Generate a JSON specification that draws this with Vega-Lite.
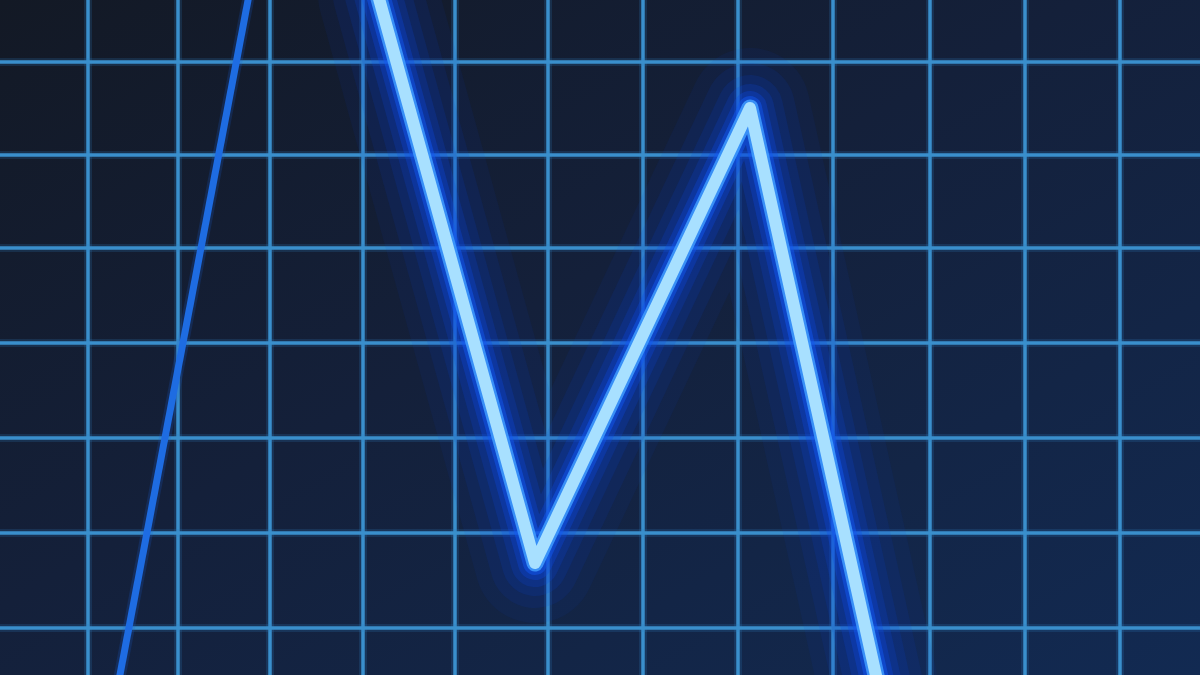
{
  "$schema": "https://vega.github.io/schema/vega-lite/v6.json",
  "width": 1200,
  "height": 675,
  "autosize": {"type": "fit", "contains": "padding"},
  "padding": 0,
  "background": "#141c2a",
  "config": {
    "view": {
      "stroke": null,
      "fill": {
        "gradient": "linear",
        "x1": 0, "y1": 0, "x2": 1, "y2": 1,
        "stops": [
          {"offset": 0, "color": "#131925"},
          {"offset": 0.45, "color": "#14203a"},
          {"offset": 1, "color": "#122a52"}
        ]
      }
    }
  },
  "datasets": {
    "vgrid": [
      {"gx": 88}, {"gx": 178}, {"gx": 270}, {"gx": 363}, {"gx": 455}, {"gx": 548},
      {"gx": 643}, {"gx": 738}, {"gx": 833}, {"gx": 930}, {"gx": 1025}, {"gx": 1120}
    ],
    "hgrid": [
      {"gy": 62}, {"gy": 155}, {"gy": 248}, {"gy": 343}, {"gy": 438}, {"gy": 533}, {"gy": 628}
    ],
    "trace": [
      {"i": 0, "t": 378, "v": -5},
      {"i": 1, "t": 535, "v": 563},
      {"i": 2, "t": 750, "v": 108},
      {"i": 3, "t": 877, "v": 680}
    ],
    "faint": [
      {"i": 0, "t": 249, "v": -5},
      {"i": 1, "t": 119, "v": 680}
    ]
  },
  "layer": [
    {
      "data": {"name": "vgrid"},
      "mark": {"type": "rule", "color": "#2f7fc0", "strokeWidth": 8, "opacity": 0.2, "clip": true},
      "encoding": {"x": {"field": "gx", "type": "quantitative", "scale": {"domain": [0, 1200]}, "axis": null}}
    },
    {
      "data": {"name": "vgrid"},
      "mark": {"type": "rule", "color": "#3a8fcc", "strokeWidth": 3.5, "clip": true},
      "encoding": {"x": {"field": "gx", "type": "quantitative", "scale": {"domain": [0, 1200]}, "axis": null}}
    },
    {
      "data": {"name": "hgrid"},
      "mark": {"type": "rule", "color": "#2f7fc0", "strokeWidth": 8, "opacity": 0.2, "clip": true},
      "encoding": {"y": {"field": "gy", "type": "quantitative", "scale": {"domain": [0, 675], "reverse": true}, "axis": null}}
    },
    {
      "data": {"name": "hgrid"},
      "mark": {"type": "rule", "color": "#3a8fcc", "strokeWidth": 3.5, "clip": true},
      "encoding": {"y": {"field": "gy", "type": "quantitative", "scale": {"domain": [0, 675], "reverse": true}, "axis": null}}
    },
    {
      "data": {"name": "faint"},
      "mark": {"type": "line", "color": "#1a5fd8", "strokeWidth": 12, "opacity": 0.2, "clip": true},
      "encoding": {
        "x": {"field": "t", "type": "quantitative", "scale": {"domain": [0, 1200]}, "axis": null},
        "y": {"field": "v", "type": "quantitative", "scale": {"domain": [0, 675], "reverse": true}, "axis": null},
        "order": {"field": "i"}
      }
    },
    {
      "data": {"name": "faint"},
      "mark": {"type": "line", "color": "#1e6ce2", "strokeWidth": 7, "clip": true},
      "encoding": {
        "x": {"field": "t", "type": "quantitative", "scale": {"domain": [0, 1200]}, "axis": null},
        "y": {"field": "v", "type": "quantitative", "scale": {"domain": [0, 675], "reverse": true}, "axis": null},
        "order": {"field": "i"}
      }
    },
    {
      "data": {"name": "trace"},
      "mark": {"type": "line", "color": "#0a3cc8", "strokeWidth": 120, "opacity": 0.08, "strokeJoin": "round", "strokeCap": "round", "clip": true},
      "encoding": {
        "x": {"field": "t", "type": "quantitative", "scale": {"domain": [0, 1200]}, "axis": null},
        "y": {"field": "v", "type": "quantitative", "scale": {"domain": [0, 675], "reverse": true}, "axis": null},
        "order": {"field": "i"}
      }
    },
    {
      "data": {"name": "trace"},
      "mark": {"type": "line", "color": "#0a3cd0", "strokeWidth": 90, "opacity": 0.11, "strokeJoin": "round", "strokeCap": "round", "clip": true},
      "encoding": {
        "x": {"field": "t", "type": "quantitative", "scale": {"domain": [0, 1200]}, "axis": null},
        "y": {"field": "v", "type": "quantitative", "scale": {"domain": [0, 675], "reverse": true}, "axis": null},
        "order": {"field": "i"}
      }
    },
    {
      "data": {"name": "trace"},
      "mark": {"type": "line", "color": "#0a40d8", "strokeWidth": 66, "opacity": 0.15, "strokeJoin": "round", "strokeCap": "round", "clip": true},
      "encoding": {
        "x": {"field": "t", "type": "quantitative", "scale": {"domain": [0, 1200]}, "axis": null},
        "y": {"field": "v", "type": "quantitative", "scale": {"domain": [0, 675], "reverse": true}, "axis": null},
        "order": {"field": "i"}
      }
    },
    {
      "data": {"name": "trace"},
      "mark": {"type": "line", "color": "#0b44e0", "strokeWidth": 48, "opacity": 0.2, "strokeJoin": "round", "strokeCap": "round", "clip": true},
      "encoding": {
        "x": {"field": "t", "type": "quantitative", "scale": {"domain": [0, 1200]}, "axis": null},
        "y": {"field": "v", "type": "quantitative", "scale": {"domain": [0, 675], "reverse": true}, "axis": null},
        "order": {"field": "i"}
      }
    },
    {
      "data": {"name": "trace"},
      "mark": {"type": "line", "color": "#0d4ae8", "strokeWidth": 34, "opacity": 0.3, "strokeJoin": "round", "strokeCap": "round", "clip": true},
      "encoding": {
        "x": {"field": "t", "type": "quantitative", "scale": {"domain": [0, 1200]}, "axis": null},
        "y": {"field": "v", "type": "quantitative", "scale": {"domain": [0, 675], "reverse": true}, "axis": null},
        "order": {"field": "i"}
      }
    },
    {
      "data": {"name": "trace"},
      "mark": {"type": "line", "color": "#1256f0", "strokeWidth": 24, "opacity": 0.5, "strokeJoin": "round", "strokeCap": "round", "clip": true},
      "encoding": {
        "x": {"field": "t", "type": "quantitative", "scale": {"domain": [0, 1200]}, "axis": null},
        "y": {"field": "v", "type": "quantitative", "scale": {"domain": [0, 675], "reverse": true}, "axis": null},
        "order": {"field": "i"}
      }
    },
    {
      "data": {"name": "trace"},
      "mark": {"type": "line", "color": "#3f9cff", "strokeWidth": 17, "opacity": 0.85, "strokeJoin": "round", "strokeCap": "round", "clip": true},
      "encoding": {
        "x": {"field": "t", "type": "quantitative", "scale": {"domain": [0, 1200]}, "axis": null},
        "y": {"field": "v", "type": "quantitative", "scale": {"domain": [0, 675], "reverse": true}, "axis": null},
        "order": {"field": "i"}
      }
    },
    {
      "data": {"name": "trace"},
      "mark": {"type": "line", "color": "#a8e0ff", "strokeWidth": 12, "strokeJoin": "round", "strokeCap": "round", "clip": true},
      "encoding": {
        "x": {"field": "t", "type": "quantitative", "scale": {"domain": [0, 1200]}, "axis": null},
        "y": {"field": "v", "type": "quantitative", "scale": {"domain": [0, 675], "reverse": true}, "axis": null},
        "order": {"field": "i"}
      }
    }
  ]
}
